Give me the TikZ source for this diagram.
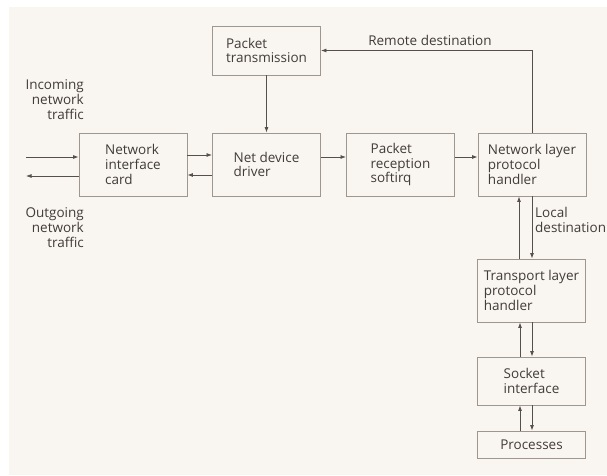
\documentclass[tikz,border=0pt]{standalone}
\usepackage{fontspec}
\setmainfont{Open Sans}
\usetikzlibrary{arrows.meta}
\definecolor{paper}{HTML}{F9F5F0}
\definecolor{boxline}{HTML}{A0968C}
\definecolor{wire}{HTML}{57504A}
\definecolor{ink}{HTML}{423C38}
\newcommand{\labelfont}{\fontsize{13.5}{14.8}\selectfont}
\tikzset{
  x=1pt, y=-1pt,
  stage/.style={draw=boxline, line width=0.9pt, align=left, inner sep=0pt,
    text=ink, font=\labelfont, minimum width=108pt},
  caption/.style={text=ink, font=\labelfont, inner sep=0pt},
  flow/.style={draw=wire, line width=0.8pt, -{Latex[length=5.5pt,width=4pt]}},
}
\begin{document}
\begin{tikzpicture}
  % paper
  \fill[white] (0,0) rectangle (607,475);
  \fill[paper] (9,7) rectangle (607,475);
  \useasboundingbox (0,0) rectangle (607,475);

  % processing stages
  \node[stage, minimum height=49pt] (ptx) at (266.5,50.5) {Packet\\transmission};
  \node[stage, minimum height=63pt] (nic) at (133,164.5) {Network\\interface\\card};
  \node[stage, minimum height=63pt] (ndd) at (266.5,164.5) {Net device\\driver};
  \node[stage, minimum height=63pt] (prx) at (400.5,164.5) {Packet\\reception\\softirq};
  \node[stage, minimum height=63pt] (nlh) at (532,164.5) {Network layer\\protocol\\handler};
  \node[stage, minimum height=63pt] (tlh) at (531.5,290.5) {Transport layer\\protocol\\handler};
  \node[stage, minimum height=48pt] (sock) at (531.5,381) {Socket\\interface};
  \node[stage, minimum height=27pt] (proc) at (531.5,444.5) {Processes};

  % outside traffic
  \coordinate (inL) at (26,157);
  \coordinate (outL) at (26,176);
  \node[caption, align=right, anchor=east] (inc) at (84,99.5) {Incoming\\network\\traffic};
  \node[caption, align=right, anchor=east] (outg) at (84,227.5) {Outgoing\\network\\traffic};
  \draw[flow] (inL) -- (inL -| nic.west);
  \draw[flow] (outL -| nic.west) -- (outL);

  % receive path
  \draw[flow] ([yshift=9.5pt]nic.east) -- ([yshift=9.5pt]ndd.west);
  \draw[flow] ([yshift=-10.5pt]ndd.west) -- ([yshift=-10.5pt]nic.east);
  \draw[flow] ([yshift=7.5pt]ndd.east) -- ([yshift=7.5pt]prx.west);
  \draw[flow] ([yshift=7.5pt]prx.east) -- ([yshift=7.5pt]nlh.west);

  % transmit path
  \draw[flow] (ptx.south) -- (ndd.north);
  \draw[flow] (nlh.north) |- (ptx.east);
  \node[caption, anchor=base] (remote) at (430,45) {Remote destination};

  % up the stack
  \draw[flow] ([xshift=-12.5pt]tlh.north) -- ([xshift=-12.5pt]tlh.north |- nlh.south);
  \draw[flow] (nlh.south) -- (nlh.south |- tlh.north);
  \node[caption, align=left, anchor=west] (local) at (535,220) {Local\\destination};
  \draw[flow] ([xshift=-11.5pt]sock.north) -- ([xshift=-11.5pt]sock.north |- tlh.south);
  \draw[flow] ([xshift=0.5pt]tlh.south) -- ([xshift=0.5pt]tlh.south |- sock.north);
  \draw[flow] ([xshift=-11.5pt]proc.north) -- ([xshift=-11.5pt]proc.north |- sock.south);
  \draw[flow] ([xshift=0.5pt]sock.south) -- ([xshift=0.5pt]sock.south |- proc.north);
\end{tikzpicture}
\end{document}
